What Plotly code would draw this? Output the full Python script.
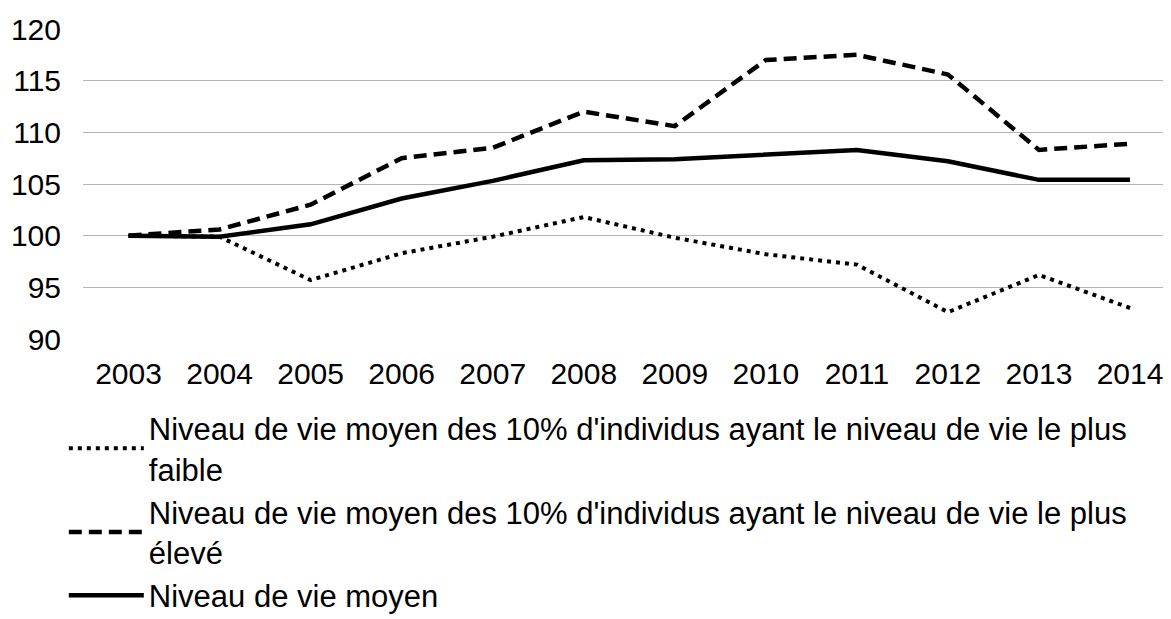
import plotly.graph_objects as go

# years on the x axis
years = ["2003", "2004", "2005", "2006", "2007", "2008",
         "2009", "2010", "2011", "2012", "2013", "2014"]

# indices (base 100 in 2003)
low_10 = [100, 99.9, 95.7, 98.3, 99.9, 101.8, 99.8, 98.2, 97.2, 92.6, 96.2, 93.0]
high_10 = [100, 100.6, 103.0, 107.5, 108.5, 112.0, 110.6, 117.0, 117.5, 115.6, 108.3, 108.9]
average = [100, 99.9, 101.1, 103.6, 105.3, 107.3, 107.4, 107.9, 108.3, 107.2, 105.4, 105.4]

names = [
    "Niveau de vie moyen des 10% d'individus ayant le niveau de vie le plus<br>faible",
    "Niveau de vie moyen des 10% d'individus ayant le niveau de vie le plus<br>élevé",
    "Niveau de vie moyen",
]

font = "Liberation Sans, Arial, sans-serif"

fig = go.Figure()
fig.add_trace(go.Scatter(x=years, y=low_10, mode="lines", name=names[0], legendgroup="a",
                         line=dict(color="black", width=4, dash="4px,5px")))
fig.add_trace(go.Scatter(x=years, y=high_10, mode="lines", name=names[1], legendgroup="b",
                         line=dict(color="black", width=4.5, dash="13px,7px")))
fig.add_trace(go.Scatter(x=years, y=average, mode="lines", name=names[2], legendgroup="c",
                         line=dict(color="black", width=4.5)))

# page body has an 8px margin, so the figure is a bit smaller than the window
fig.update_layout(
    width=1163, height=611,
    margin=dict(l=75, r=0, t=21, b=280, autoexpand=False),
    paper_bgcolor="white", plot_bgcolor="white",
    font=dict(family=font, size=30, color="black"),
    showlegend=True,
    legend=dict(
        xref="container", yref="container",
        x=0.048, y=0.356, xanchor="left", yanchor="top",
        orientation="v", traceorder="normal",
        itemwidth=75, tracegroupgap=13, borderwidth=0,
        font=dict(family=font, size=31, color="black"),
        bgcolor="rgba(0,0,0,0)",
    ),
)

fig.update_xaxes(type="category", range=[-0.5, 11.45], showgrid=False,
                 showline=False, zeroline=False, ticks="",
                 ticklabelstandoff=14, tickangle=0,
                 tickfont=dict(family=font, size=30, color="black"))
fig.update_yaxes(range=[90, 120], dtick=5, tick0=90, showgrid=True,
                 gridcolor="#b4b4b4", gridwidth=1.2, zeroline=False,
                 showline=False, ticks="", ticklabelstandoff=21,
                 tickfont=dict(family=font, size=30, color="black"))

fig.write_html("out.html")
